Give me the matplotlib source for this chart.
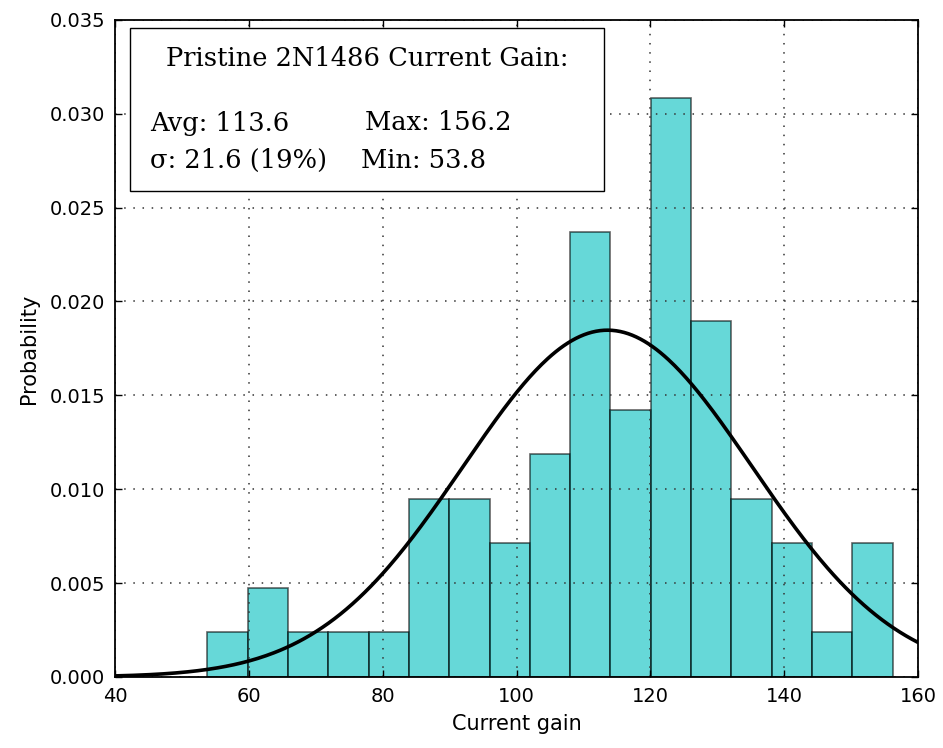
import matplotlib
matplotlib.use("Agg")
import matplotlib.pyplot as plt
import numpy as np
from matplotlib.patches import Rectangle

# Current gain histogram of pristine 2N1486 transistors
bin_edges = np.linspace(53.8, 156.2, 18)
counts = np.array([1, 2, 1, 1, 1, 4, 4, 3, 5, 10, 6, 13, 8, 4, 3, 1, 3])
gain_mean = 113.6
gain_std = 21.6
gain_min = 53.8
gain_max = 156.2

n_total = counts.sum()
widths = np.diff(bin_edges)
density = counts / (n_total * widths)

fig = plt.figure(figsize=(9.43, 7.48), dpi=100)
ax = fig.add_axes([0.122, 0.095, 0.8515, 0.8785])

ax.bar(bin_edges[:-1], density, width=widths, align='edge',
       facecolor='c', edgecolor='k', alpha=0.6, linewidth=1.2, zorder=1)

x = np.linspace(40, 160, 400)
pdf = np.exp(-0.5 * ((x - gain_mean) / gain_std) ** 2) / (gain_std * np.sqrt(2 * np.pi))
ax.plot(x, pdf, 'k-', linewidth=2.6, zorder=3)

ax.set_xlim(40, 160)
ax.set_ylim(0, 0.035)
ax.set_xticks(np.arange(40, 161, 20))
yt = np.arange(0, 0.0351, 0.005)
ax.set_yticks(yt)
ax.set_yticklabels([f'{v:.3f}' for v in yt])
ax.tick_params(direction='in', top=True, right=True, length=5, width=1,
               labelsize=14, pad=7)
# classic-style dotted grid drawn over the bars
ax.set_axisbelow(False)
ax.grid(True, linestyle=(0, (1, 5)), color='0.2', linewidth=1.1)
for gl in ax.get_xgridlines() + ax.get_ygridlines():
    gl.set_zorder(2.5)
for s in ax.spines.values():
    s.set_linewidth(1.3)
    s.set_zorder(4)

ax.set_xlabel('Current gain', fontsize=15, labelpad=6)
ax.set_ylabel('Probability', fontsize=15, labelpad=8)

# Stats box, positioned in pixel units of the figure
W, H = 943, 748
def fx(px):
    return px / W
def fy(py):
    return 1 - py / H

fig.patches.append(Rectangle((fx(130), fy(191)), fx(604) - fx(130), fy(28) - fy(191),
                             transform=fig.transFigure, facecolor='white',
                             edgecolor='k', linewidth=1, zorder=5))
serif = 'DejaVu Serif'
fs = 18.5
fig.text(fx(367), fy(58), 'Pristine 2N1486 Current Gain:', ha='center', va='center',
         fontsize=fs, family=serif, zorder=6)
fig.text(fx(150), fy(123), f'Avg: {gain_mean}', ha='left', va='center',
         fontsize=fs, family=serif, zorder=6)
fig.text(fx(365), fy(123), f'Max: {gain_max}', ha='left', va='center',
         fontsize=fs, family=serif, zorder=6)
fig.text(fx(150), fy(160), f'σ: {gain_std} (19%)', ha='left', va='center',
         fontsize=fs, family=serif, zorder=6)
fig.text(fx(361), fy(160), f'Min: {gain_min}', ha='left', va='center',
         fontsize=fs, family=serif, zorder=6)

fig.savefig('out.png', dpi=100)
